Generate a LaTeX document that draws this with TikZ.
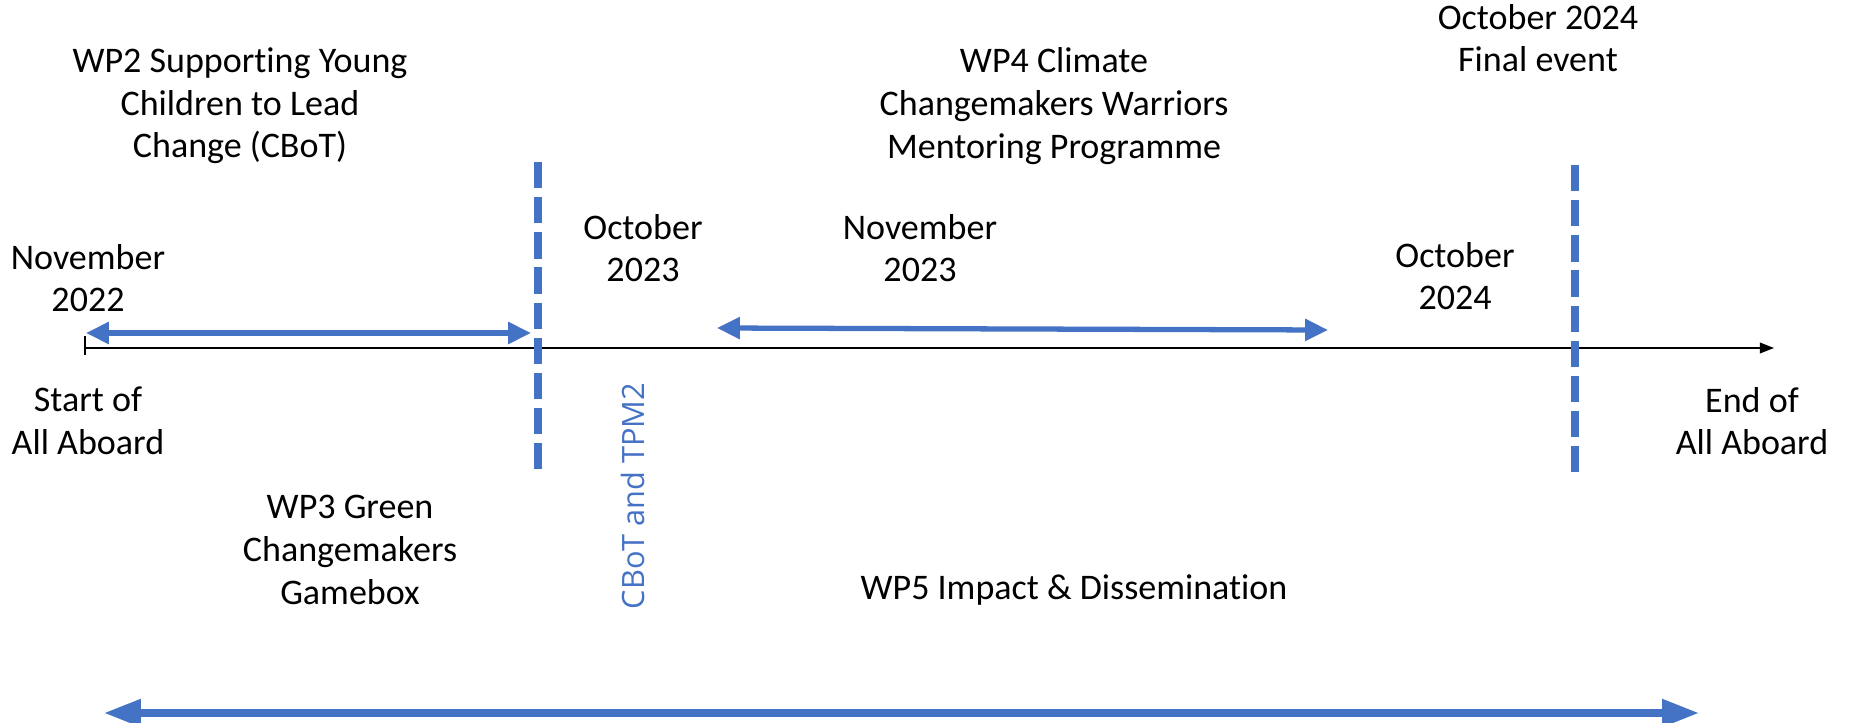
\documentclass[tikz,border=0pt]{standalone}
\usepackage{fontspec}
\setmainfont{Carlito}[Ligatures=NoCommon]
\newfontfamily\tpmfont{Open Sans}
\usetikzlibrary{arrows.meta}
\definecolor{wpblue}{HTML}{4472C4}
\tikzset{
  lbl/.style={align=center, inner sep=0pt, font=\fontsize{20.5}{24.3}\selectfont},
  span/.style={draw=wpblue, line width=3pt, {Triangle[length=13pt,width=12pt]}-{Triangle[length=13pt,width=12pt]}},
  bigspan/.style={draw=wpblue, line width=4pt, {Triangle[length=21pt,width=15pt]}-{Triangle[length=21pt,width=15pt]}},
  milestone/.style={draw=wpblue, line width=4.5pt, dash pattern=on 15pt off 5pt},
}

\begin{document}
\begin{tikzpicture}[x=0.02cm, y=-0.02cm]
    \useasboundingbox (0,0) rectangle (1850,723);

    % labels above and below the time axis
    \node[lbl] (wp2) at (240,106) {WP2 Supporting Young\\Children to Lead\\Change (CBoT)};
    \node[lbl] (wp4) at (1054,106) {WP4 Climate\\Changemakers Warriors\\Mentoring Programme};
    \node[lbl] (final) at (1538,38) {October 2024\\Final event};
    \node[lbl] (nov22) at (88,278) {November\\2022};
    \node[lbl] (oct23) at (643,248) {October\\2023};
    \node[lbl] (nov23) at (920,248) {November\\2023};
    \node[lbl] (oct24) at (1455,276) {October\\2024};
    \node[lbl] (start) at (88,421) {Start of\\All Aboard};
    \node[lbl] (end) at (1752,421) {End of\\All Aboard};
    \node[lbl] (wp3) at (350,550) {WP3 Green\\Changemakers\\Gamebox};
    \node[lbl] (wp5) at (1074,590) {WP5 Impact \& Dissemination};
    \node[inner sep=0pt, rotate=90, text=wpblue, font=\tpmfont\fontsize{17.5}{20}\selectfont] (tpm) at (633,496) {CBoT and TPM2};

    % time axis
    \coordinate (t0) at (85,348);
    \coordinate (t1) at (1774,348);
    \draw[line width=1pt, -{Triangle[length=8pt,width=6pt]}] (t0) -- (t1);
    \draw[line width=0.8pt] (85,336) -- (85,355);

    % milestones
    \coordinate (m1a) at (538,162); \coordinate (m1b) at (538,478);
    \coordinate (m2a) at (1575,165); \coordinate (m2b) at (1575,480);
    \draw[milestone] (m1a) -- (m1b);
    \draw[milestone] (m2a) -- (m2b);

    % work package spans
    \coordinate (s1a) at (86,333); \coordinate (s1b) at (531,333);
    \coordinate (s2a) at (717,328); \coordinate (s2b) at (1328,330);
    \coordinate (s3a) at (104,713); \coordinate (s3b) at (1699,713);
    \draw[span] (s1a) -- (s1b);
    \draw[span] (s2a) -- (s2b);
    \draw[bigspan] (s3a) -- (s3b);
\end{tikzpicture}
\end{document}
